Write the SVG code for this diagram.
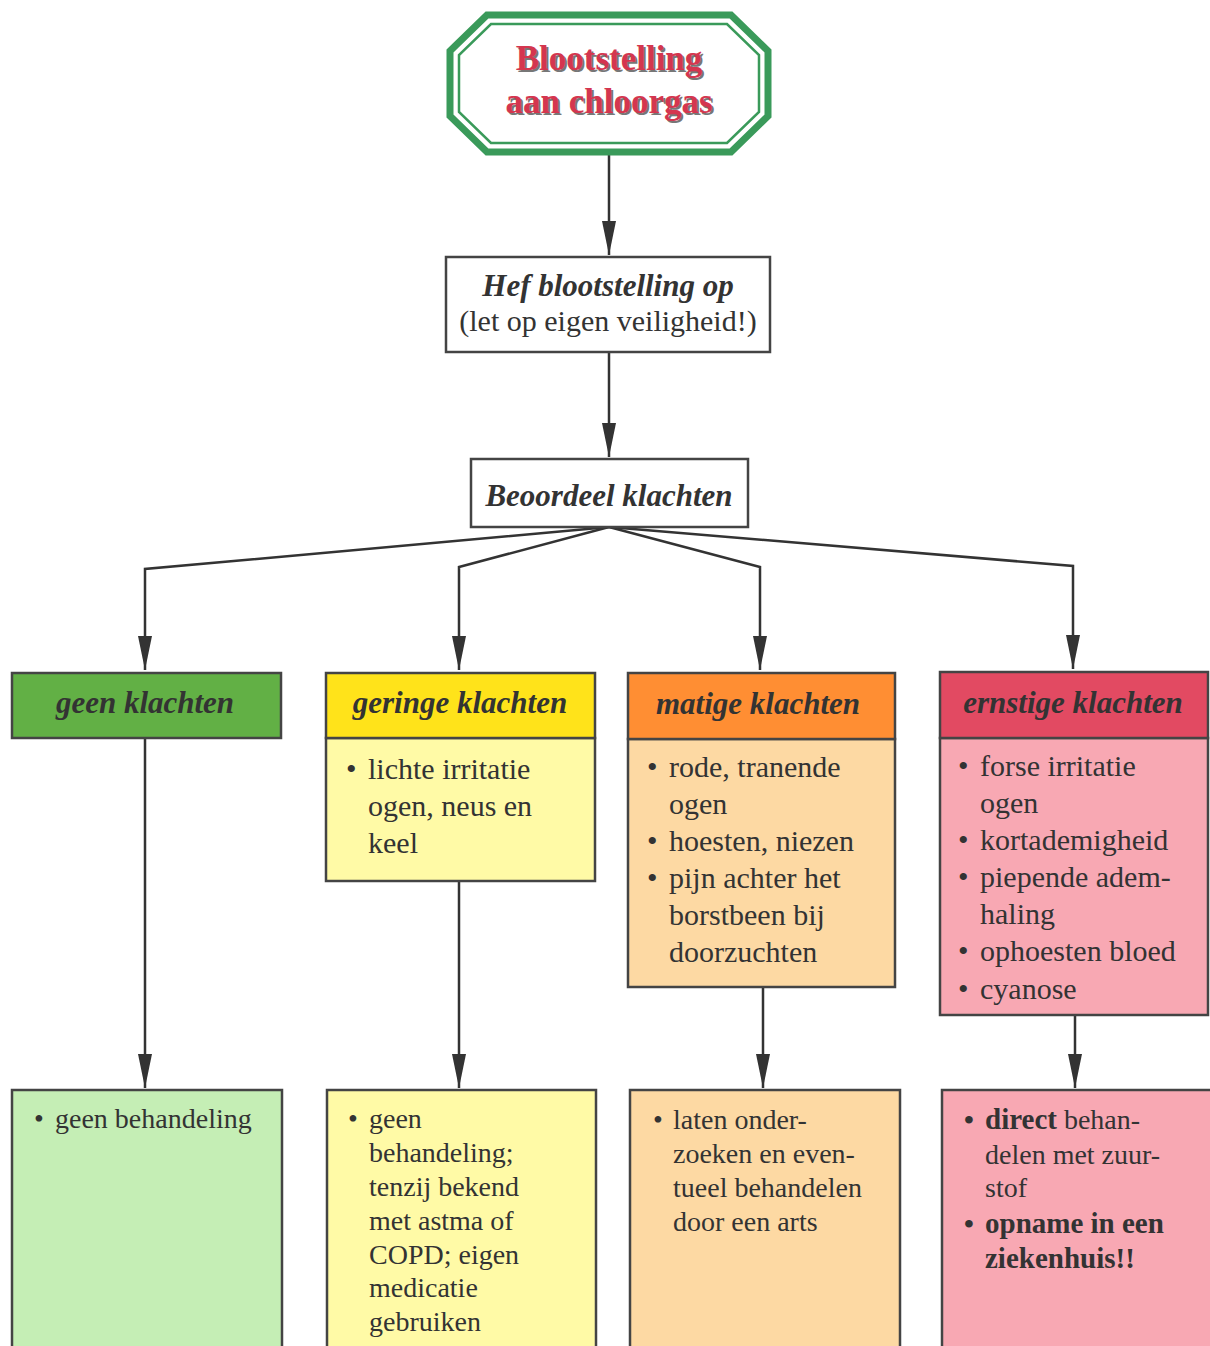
<svg xmlns="http://www.w3.org/2000/svg" width="1210" height="1346" viewBox="0 0 1210 1346">
<style>
.t{font-family:"Liberation Serif","DejaVu Serif Condensed","DejaVu Serif",serif;fill:#333}
.ti{font-family:"Liberation Serif","DejaVu Serif Condensed","DejaVu Serif",serif;font-weight:bold;font-size:35px}
.h{font-weight:bold;font-style:italic;font-size:31px}
.b{font-size:30px}
.s{font-size:28px}
.box{stroke:#444;stroke-width:2.5}
.ln{fill:none;stroke:#333;stroke-width:2.5}
</style>
<defs>
<marker id="ah" markerUnits="userSpaceOnUse" markerWidth="34" markerHeight="14" refX="34" refY="7" orient="auto" viewBox="0 0 34 14">
<path d="M0,0 L34,7 L0,14 Z" fill="#333"/>
</marker>
</defs>
<rect width="1210" height="1346" fill="#fff"/>

<g id="connectors">
<line class="ln" x1="609" y1="155" x2="609" y2="255" marker-end="url(#ah)"/>
<line class="ln" x1="609" y1="352" x2="609" y2="457" marker-end="url(#ah)"/>
<polyline class="ln" points="609,527 145,569 145,670" marker-end="url(#ah)"/>
<polyline class="ln" points="609,527 459,567 459,670" marker-end="url(#ah)"/>
<polyline class="ln" points="609,527 760,567 760,670" marker-end="url(#ah)"/>
<polyline class="ln" points="609,527 1073,566 1073,669" marker-end="url(#ah)"/>
<line class="ln" x1="145" y1="738" x2="145" y2="1088" marker-end="url(#ah)"/>
<line class="ln" x1="459" y1="881" x2="459" y2="1088" marker-end="url(#ah)"/>
<line class="ln" x1="763" y1="987" x2="763" y2="1088" marker-end="url(#ah)"/>
<line class="ln" x1="1075" y1="1015" x2="1075" y2="1088" marker-end="url(#ah)"/>
</g>

<g id="start">
<polygon points="487,15 731,15 768,51 768,116 731,152 487,152 450,116 450,51" fill="#fff" stroke="#3a9a5a" stroke-width="7"/>
<polygon points="491,24 727,24 759,55 759,112 727,143 491,143 459,112 459,55" fill="none" stroke="#3a9a5a" stroke-width="2.5"/>
<g class="ti" text-anchor="middle">
<text x="611" y="72" fill="#777">Blootstelling</text>
<text x="611" y="115" fill="#777">aan chloorgas</text>
<text x="609" y="70" fill="#d4364f">Blootstelling</text>
<text x="609" y="113" fill="#d4364f">aan chloorgas</text>
</g>
</g>

<g id="hef">
<rect class="box" x="446" y="257" width="324" height="95" fill="#fff"/>
<text class="t h" x="608" y="296" text-anchor="middle">Hef blootstelling op</text>
<text class="t b" x="608" y="331" text-anchor="middle">(let op eigen veiligheid!)</text>
</g>

<g id="beoordeel">
<rect class="box" x="471" y="459" width="277" height="68" fill="#fff"/>
<text class="t h" x="609" y="506" text-anchor="middle">Beoordeel klachten</text>
</g>

<g id="geen">
<rect class="box" x="12" y="673" width="269" height="65" fill="#62b045"/>
<text class="t h" x="145" y="713" text-anchor="middle">geen klachten</text>
</g>

<g id="geringe">
<rect class="box" x="326" y="738" width="269" height="143" fill="#fffaa6"/>
<rect class="box" x="326" y="673" width="269" height="65" fill="#ffe31a"/>
<text class="t h" x="460" y="713" text-anchor="middle">geringe klachten</text>
<g class="t b">
<text x="346" y="779">•</text><text x="368" y="779">lichte irritatie</text>
<text x="368" y="816">ogen, neus en</text>
<text x="368" y="853">keel</text>
</g>
</g>

<g id="matige">
<rect class="box" x="628" y="739" width="267" height="248" fill="#fdd9a3"/>
<rect class="box" x="628" y="673" width="267" height="66" fill="#ff8e33"/>
<text class="t h" x="758" y="714" text-anchor="middle">matige klachten</text>
<g class="t b">
<text x="647" y="777">•</text><text x="669" y="777">rode, tranende</text>
<text x="669" y="814">ogen</text>
<text x="647" y="851">•</text><text x="669" y="851">hoesten, niezen</text>
<text x="647" y="888">•</text><text x="669" y="888">pijn achter het</text>
<text x="669" y="925">borstbeen bij</text>
<text x="669" y="962">doorzuchten</text>
</g>
</g>

<g id="ernstige">
<rect class="box" x="940" y="738" width="268" height="277" fill="#f8a8b3"/>
<rect class="box" x="940" y="672" width="268" height="66" fill="#e24a62"/>
<text class="t h" x="1073" y="713" text-anchor="middle">ernstige klachten</text>
<g class="t b">
<text x="958" y="776">•</text><text x="980" y="776">forse irritatie</text>
<text x="980" y="813">ogen</text>
<text x="958" y="850">•</text><text x="980" y="850">kortademigheid</text>
<text x="958" y="887">•</text><text x="980" y="887">piepende adem-</text>
<text x="980" y="924">haling</text>
<text x="958" y="961">•</text><text x="980" y="961">ophoesten bloed</text>
<text x="958" y="999">•</text><text x="980" y="999">cyanose</text>
</g>
</g>

<g id="geen-beh">
<rect class="box" x="12" y="1090" width="270" height="280" fill="#c5eeb5"/>
<g class="t s">
<text x="34" y="1128">•</text><text x="55" y="1128">geen behandeling</text>
</g>
</g>

<g id="geringe-beh">
<rect class="box" x="327" y="1090" width="269" height="280" fill="#fffaa6"/>
<g class="t s">
<text x="348" y="1128">•</text><text x="369" y="1128">geen</text>
<text x="369" y="1162">behandeling;</text>
<text x="369" y="1196">tenzij bekend</text>
<text x="369" y="1230">met astma of</text>
<text x="369" y="1264">COPD; eigen</text>
<text x="369" y="1297">medicatie</text>
<text x="369" y="1331">gebruiken</text>
</g>
</g>

<g id="matige-beh">
<rect class="box" x="630" y="1090" width="270" height="280" fill="#fdd9a3"/>
<g class="t s">
<text x="653" y="1129">•</text><text x="673" y="1129">laten onder-</text>
<text x="673" y="1163">zoeken en even-</text>
<text x="673" y="1197">tueel behandelen</text>
<text x="673" y="1231">door een arts</text>
</g>
</g>

<g id="ernstige-beh">
<rect class="box" x="942" y="1090" width="270" height="280" fill="#f8a8b3"/>
<g class="t s">
<text x="964" y="1129" font-weight="bold">•</text><text x="985" y="1129"><tspan font-weight="bold" font-size="29">direct</tspan> behan-</text>
<text x="985" y="1164">delen met zuur-</text>
<text x="985" y="1197">stof</text>
<text x="964" y="1233" font-weight="bold">•</text><text x="985" y="1233" font-weight="bold" font-size="29">opname in een</text>
<text x="985" y="1268" font-weight="bold" font-size="29">ziekenhuis!!</text>
</g>
</g>
</svg>
